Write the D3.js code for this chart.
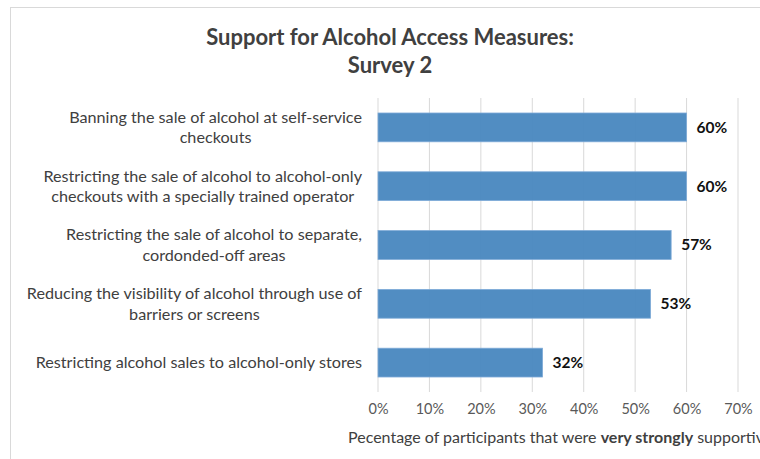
<!DOCTYPE html>
<html>
<head>
<meta charset="utf-8">
<script src="https://cdn.jsdelivr.net/npm/d3@7"></script>
<style>
  html, body { margin: 0; padding: 0; background: #fff; }
  svg { display: block; font-family: Lato, "Open Sans", sans-serif; }
</style>
</head>
<body>
<svg id="chart" width="760" height="459"></svg>
<script>
// Survey measures (each entry is one label, split into display lines)
const categories = [
  ["Banning the sale of alcohol at self-service", "checkouts"],
  ["Restricting the sale of alcohol to alcohol-only", "checkouts with a specially trained operator"],
  ["Restricting the sale of alcohol to separate,", "cordonded-off areas"],
  ["Reducing the visibility of alcohol through use of", "barriers or screens"],
  ["Restricting alcohol sales to alcohol-only stores"]
];
// Percentage very strongly supportive
const values = [60, 60, 57, 53, 32];
const tickValues = [0, 10, 20, 30, 40, 50, 60, 70];
const titleLines = ["Support for Alcohol Access Measures:", "Survey 2"];

const svg = d3.select("#chart");

// outer chart frame
svg.append("rect")
  .attr("x", 10.5).attr("y", 7.5)
  .attr("width", 800).attr("height", 500)
  .attr("fill", "#fff")
  .attr("stroke", "#d9d9d9");

const plot = { left: 378, right: 738, top: 98, bottom: 392 };

const x = d3.scaleLinear().domain([0, 70]).range([plot.left, plot.right]);
const y = d3.scaleBand()
  .domain(d3.range(categories.length))
  .range([plot.top, plot.bottom])
  .paddingInner(0.51)
  .paddingOuter(0.255);

// title
svg.append("g").selectAll("text")
  .data(titleLines)
  .join("text")
  .attr("x", 390)
  .attr("y", (d, i) => 45 + i * 28)
  .attr("text-anchor", "middle")
  .attr("font-size", 22)
  .attr("font-weight", 700)
  .attr("fill", "#404040")
  .text(d => d);

// vertical gridlines
svg.append("g").selectAll("line")
  .data(tickValues)
  .join("line")
  .attr("x1", d => x(d)).attr("x2", d => x(d))
  .attr("y1", plot.top).attr("y2", plot.bottom)
  .attr("stroke", "#d9d9d9")
  .attr("stroke-width", 1);

// x axis tick labels
const xAxis = d3.axisBottom(x)
  .tickValues(tickValues)
  .tickFormat(d => d + "%")
  .tickSize(0)
  .tickPadding(12);
const gx = svg.append("g")
  .attr("transform", `translate(0,${plot.bottom})`)
  .call(xAxis);
gx.select(".domain").remove();
gx.selectAll("text")
  .attr("font-family", "Lato, 'Open Sans', sans-serif")
  .attr("font-size", 14.5)
  .attr("fill", "#595959");

// bars (slightly translucent so the gridlines show faintly)
svg.append("g").selectAll("rect")
  .data(values)
  .join("rect")
  .attr("x", x(0))
  .attr("y", (d, i) => y(i))
  .attr("width", d => x(d) - x(0))
  .attr("height", y.bandwidth())
  .attr("fill", "#4a88c0")
  .attr("fill-opacity", 0.96)
  .attr("stroke", "#7fabd8")
  .attr("stroke-width", 0.8);

// value labels
svg.append("g").selectAll("text")
  .data(values)
  .join("text")
  .attr("x", d => x(d) + 10)
  .attr("y", (d, i) => y(i) + y.bandwidth() / 2)
  .attr("dy", "0.35em")
  .attr("font-size", 15.5)
  .attr("font-weight", 700)
  .attr("fill", "#111")
  .text(d => d + "%");

// category labels: each block right-aligned, lines centred within the block
const labelRight = 362;
const lineGap = 20.5;
const catG = svg.append("g").selectAll("g")
  .data(categories)
  .join("g")
  .attr("transform", (d, i) => `translate(0,${y(i) + y.bandwidth() / 2})`);
catG.each(function(lines) {
  const g = d3.select(this);
  const texts = g.selectAll("text")
    .data(lines)
    .join("text")
    .attr("font-size", 16.2)
    .attr("fill", "#404040")
    .attr("text-anchor", "middle")
    .attr("y", (d, j) => (j - (lines.length - 1) / 2) * lineGap)
    .attr("dy", "0.35em")
    .text(d => d);
  const widest = d3.max(texts.nodes(), n => n.getComputedTextLength());
  texts.attr("x", labelRight - widest / 2);
});

// x axis title with bold emphasis
const xt = svg.append("text")
  .attr("x", 348)
  .attr("y", 443)
  .attr("font-size", 16)
  .attr("fill", "#404040");
xt.append("tspan").text("Pecentage of participants that were ");
xt.append("tspan").attr("font-weight", 700).text("very strongly");
xt.append("tspan").text(" supportive");
</script>
</body>
</html>
